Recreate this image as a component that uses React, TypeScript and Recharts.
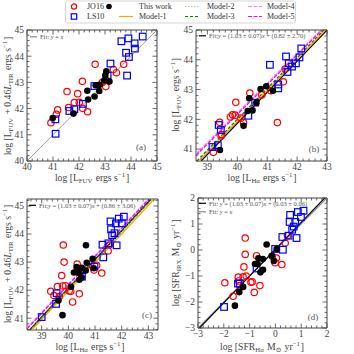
import React from 'react';
import { ScatterChart, Scatter, XAxis, YAxis } from 'recharts';

const FONT = '"Liberation Serif", "DejaVu Serif", serif';
const SIZE = 354;
const FRAME = '#444';
const TXT = '#444';

type P = [number, number];
const pts = (a: P[]) => a.map(([x, y]) => ({ x, y }));

// ---------- panel (a): L_FUV vs L_FUV + 0.46 L_TIR
const aJo16: P[] = [
  [40.92, 41.46], [41.13, 41.78], [41.18, 41.95], [41.6, 42.04], [41.54, 42.65],
  [41.82, 42.23], [42.01, 42.24], [41.95, 42.57], [42.13, 43.04], [42.14, 42.01],
  [42.33, 41.88], [42.62, 43.69], [42.9, 43.0], [43.03, 42.84], [43.03, 43.09],
  [43.32, 43.49], [43.44, 43.37], [43.72, 43.69],
];
const aLs10: P[] = [
  [41.09, 41.59], [41.1, 41.04], [41.63, 41.91], [41.82, 41.97], [42.15, 42.18],
  [42.59, 42.86], [43.1, 43.26], [43.21, 43.72], [43.63, 44.57], [43.9, 44.68],
  [43.81, 44.13], [43.92, 43.97], [43.85, 43.26], [44.14, 44.49], [44.15, 44.29],
  [44.45, 44.75],
];
const aThis: P[] = [
  [40.99, 41.64], [41.79, 41.81], [42.32, 42.68], [42.35, 42.35], [42.6, 42.46],
  [42.64, 42.89], [42.73, 42.88], [42.78, 42.67], [42.79, 42.91], [43.01, 43.26],
  [43.05, 43.42], [43.17, 43.03], [42.97, 43.07],
];
const aOneToOne: P[] = [[40, 40], [45, 45]];

// ---------- panel (b): L_Ha vs L_FUV
const bJo16: P[] = [
  [39.2, 40.89], [39.48, 41.49], [39.41, 41.9], [39.46, 41.44], [39.77, 42.08],
  [39.84, 42.15], [39.95, 42.57], [39.93, 42.14], [40.12, 42.04], [40.21, 41.89],
  [40.42, 42.88], [40.82, 42.82], [41.12, 42.96], [41.34, 41.89], [41.54, 43.26],
  [41.6, 43.69],
];
const bLs10: P[] = [
  [39.17, 41.07], [39.35, 41.13], [39.38, 41.81], [39.45, 41.64], [40.37, 42.12],
  [40.6, 42.56], [41.09, 43.83], [41.37, 43.17], [41.37, 43.04], [41.63, 44.11],
  [41.68, 43.59], [41.72, 43.88], [41.83, 43.77], [41.96, 43.88], [42.08, 44.08],
  [42.14, 44.38],
];
const bThis: P[] = [
  [39.42, 40.97], [40.21, 41.78], [40.4, 42.71], [40.35, 42.28], [40.51, 42.3],
  [40.64, 42.56], [40.78, 43.02], [40.97, 43.11], [41.19, 42.96],
];
const bFit: P[] = [[38.79, 40.6], [43.0, 45.0]];
const bModel1: P[] = [[38.72, 40.6], [42.95, 45.0]];
const bModel2: P[] = [[38.68, 40.6], [42.92, 45.0]];
const bModel3: P[] = [[38.65, 40.6], [42.9, 45.0]];
const bModel4: P[] = [[38.62, 40.84], [42.8, 45.0]];
const bModel5: P[] = [[38.62, 40.79], [42.84, 45.0]];

// ---------- panel (c): L_Ha vs L_FUV + 0.46 L_TIR
const cJo16: P[] = [
  [39.34, 41.96], [39.46, 41.81], [39.59, 42.13], [39.66, 41.77], [39.81, 43.61],
  [39.84, 43.0], [39.75, 42.52], [39.79, 42.15], [39.89, 42.16], [40.03, 41.97],
  [40.09, 41.96], [40.16, 41.58], [40.33, 42.93], [40.41, 41.87], [40.83, 42.92],
  [40.96, 42.72], [41.06, 42.89], [41.25, 42.61], [41.49, 43.4], [41.54, 43.61],
];
const cLs10: P[] = [
  [39.0, 41.04], [39.56, 41.89], [39.54, 41.51], [40.51, 42.48], [40.98, 42.84],
  [41.28, 43.62], [41.31, 43.17], [41.5, 43.67], [41.58, 44.45], [41.6, 44.17],
  [41.64, 43.96], [41.73, 44.03], [41.78, 44.38], [41.81, 43.6], [41.89, 44.55],
  [42.0, 44.38], [42.08, 44.62],
];
const cThis: P[] = [
  [39.78, 41.11], [39.63, 41.63], [40.21, 42.63], [40.31, 42.82], [40.4, 42.61],
  [40.5, 42.8], [40.41, 42.37], [40.5, 42.45], [40.65, 42.7], [40.69, 42.98],
  [40.1, 42.12], [40.91, 43.12], [40.66, 43.6], [40.95, 42.78],
];
const cFit: P[] = [[38.55, 40.58], [43.1, 45.25]];
const cModel1: P[] = [[38.63, 40.58], [43.22, 45.25]];
const cModel2: P[] = [[38.58, 40.58], [43.14, 45.25]];
const cModel3: P[] = [[38.57, 40.58], [43.12, 45.25]];
const cModel4: P[] = [[38.45, 40.66], [43.0, 45.25]];
const cModel5: P[] = [[38.45, 40.62], [43.03, 45.25]];

// ---------- panel (d): SFR_Ha vs SFR_IRX
const dJo16: P[] = [
  [-1.96, -1.26], [-1.64, -1.78], [-1.44, -1.04], [-1.42, -1.19], [-1.38, -1.37],
  [-1.25, -1.03], [-1.17, 0.46], [-1.17, -0.17], [-1.22, -0.65], [-1.13, -1.0],
  [-0.95, -1.24], [-0.9, -1.22], [-0.82, -1.63], [-0.73, -0.22], [-0.6, -1.37],
  [-0.12, -0.24], [-0.01, -0.49], [0.04, -0.31], [0.25, -0.56], [0.38, 0.27],
  [0.47, 0.55],
];
const dLs10: P[] = [
  [-1.99, -2.19], [-1.45, -1.29], [-1.38, -1.29], [-0.73, -0.71], [-0.01, 0.04],
  [0.27, 0.5], [0.29, 0.01], [0.51, 0.55], [0.57, 1.35], [0.55, 1.08],
  [0.65, 0.78], [0.71, 0.9], [0.77, 1.08], [0.87, 1.46], [0.82, 0.46],
  [0.99, 1.27], [1.09, 1.51],
];
const dThis: P[] = [
  [-1.57, -2.14], [-1.4, -1.62], [-1.25, -1.42], [-0.79, -0.54], [-0.69, -0.54],
  [-0.66, -0.32], [-0.58, -0.86], [-0.49, -0.35], [-0.48, -0.76], [-0.34, 0.21],
  [-0.14, -0.22], [-0.06, -0.42], [0.05, 0.04],
];
const dFit: P[] = [[-3, -3.06], [2, 2.09]];
const dOneToOne: P[] = [[-3, -3], [2, 2]];

// major ticks
const ticks40to45 = [40, 41, 42, 43, 44, 45];
const ticks39to43 = [39, 40, 41, 42, 43];
const ticks41to45 = [41, 42, 43, 44, 45];
const ticksM3to2 = [-3, -2, -1, 0, 1, 2];

const C = {
  jo16: '#ff0000',
  ls10: '#0000ff',
  m1: '#ffa500',
  m2: '#98df8a',
  m3: '#008000',
  m4: '#ee82ee',
  m5: '#ff00ff',
};

const RedCircle = (p: any) => (
  <circle cx={p.cx} cy={p.cy} r={3.2} fill="none" stroke={C.jo16} strokeWidth={1.2} />
);
const BlueSquare = (p: any) => (
  <rect x={p.cx - 3.3} y={p.cy - 3.3} width={6.6} height={6.6} fill="none" stroke={C.ls10} strokeWidth={1.2} />
);
const BlackDot = (p: any) => <circle cx={p.cx} cy={p.cy} r={3.3} fill="#000" />;
const NoDot = () => <g />;

function withMinor(dom: [number, number], majors: number[], step = 0.2) {
  const out = [...majors];
  const start = Math.ceil(dom[0] / step - 1e-9);
  for (let i = start; i * step <= dom[1] + 1e-9; i++) {
    const v = +(i * step).toFixed(2);
    if (!majors.some((m) => Math.abs(m - v) < 1e-6)) out.push(v);
  }
  return out.sort((a, b) => a - b);
}

type Side = 'bottom' | 'top' | 'left' | 'right';
const tickFn = (side: Side, majors: number[]) => (props: any) => {
  const { x, y, payload } = props;
  const v = payload.value as number;
  const major = majors.some((m) => Math.abs(m - v) < 1e-6);
  const len = major ? 4.5 : 2.5;
  let l = { x1: x, y1: y, x2: x, y2: y };
  if (side === 'bottom') l.y2 = y - len;
  if (side === 'top') l.y2 = y + len;
  if (side === 'left') l.x2 = x + len;
  if (side === 'right') l.x2 = x - len;
  const label = String(v).replace('-', '\u2212');
  return (
    <g>
      <line {...l} stroke={FRAME} strokeWidth={0.8} />
      {major && side === 'bottom' && (
        <text x={x} y={y + 9} textAnchor="middle" fontSize={9.5} fontFamily={FONT} fill={TXT}>
          {label}
        </text>
      )}
      {major && side === 'left' && (
        <text x={x - 3} y={y + 3.3} textAnchor="end" fontSize={9.5} fontFamily={FONT} fill={TXT}>
          {label}
        </text>
      )}
    </g>
  );
};

type LineDef = { data: P[]; stroke: string; width?: number; dash?: string };
type PanelProps = {
  box: { l: number; t: number; w: number; h: number };
  xDom: [number, number];
  yDom: [number, number];
  xMajor: number[];
  yMajor: number[];
  jo16: P[];
  ls10: P[];
  mine: P[];
  lines: LineDef[];
};

function Panel({ box, xDom, yDom, xMajor, yMajor, jo16, ls10, mine, lines }: PanelProps) {
  // every axis is 1px thick (a 0px axis is not drawn), so the margins give that pixel back
  const margin = {
    left: box.l - 1,
    top: box.t - 1,
    right: SIZE - box.l - box.w - 1,
    bottom: SIZE - box.t - box.h - 1,
  };
  const xTicks = withMinor(xDom, xMajor);
  const yTicks = withMinor(yDom, yMajor);
  const common = {
    type: 'number' as const,
    allowDataOverflow: true,
    tickSize: 0,
    tickMargin: 0,
    tickLine: false,
    interval: 0 as const,
    axisLine: { stroke: FRAME, strokeWidth: 1 },
  };
  return (
    <div style={{ position: 'absolute', left: 0, top: 0 }}>
      <ScatterChart width={SIZE} height={SIZE} margin={margin}>
        <XAxis {...common} xAxisId="b" dataKey="x" domain={xDom} ticks={xTicks} height={1} tick={tickFn('bottom', xMajor)} />
        <XAxis {...common} xAxisId="t" orientation="top" dataKey="x" domain={xDom} ticks={xTicks} height={1} tick={tickFn('top', xMajor)} />
        <YAxis {...common} yAxisId="l" dataKey="y" domain={yDom} ticks={yTicks} width={1} tick={tickFn('left', yMajor)} />
        <YAxis {...common} yAxisId="r" orientation="right" dataKey="y" domain={yDom} ticks={yTicks} width={1} tick={tickFn('right', yMajor)} />
        <Scatter xAxisId="t" yAxisId="r" data={pts(mine)} shape={NoDot} isAnimationActive={false} />
        {lines.map((ln, i) => (
          <Scatter
            key={i}
            xAxisId="b"
            yAxisId="l"
            data={pts(ln.data)}
            line={{ stroke: ln.stroke, strokeWidth: ln.width ?? 1.3, strokeDasharray: ln.dash }}
            lineType="joint"
            shape={NoDot}
            isAnimationActive={false}
          />
        ))}
        <Scatter xAxisId="b" yAxisId="l" data={pts(jo16)} shape={RedCircle} isAnimationActive={false} />
        <Scatter xAxisId="b" yAxisId="l" data={pts(ls10)} shape={BlueSquare} isAnimationActive={false} />
        <Scatter xAxisId="b" yAxisId="l" data={pts(mine)} shape={BlackDot} isAnimationActive={false} />
      </ScatterChart>
    </div>
  );
}

const models = (m1: P[], m2: P[], m3: P[], m4: P[], m5: P[]): LineDef[] => [
  { data: m2, stroke: C.m2, dash: '1.5 1.5' },
  { data: m3, stroke: C.m3, dash: '3 2' },
  { data: m4, stroke: C.m4, dash: '4 1.5' },
  { data: m5, stroke: C.m5, dash: '4 1.5' },
  { data: m1, stroke: C.m1 },
];

const sub = (s: string) => (
  <>
    <tspan fontSize={6.8} dy={2}>{s}</tspan>
    <tspan dy={-2}>{'\u200a'}</tspan>
  </>
);
const sup = (s: string) => (
  <>
    <tspan fontSize={6.8} dy={-4}>{s}</tspan>
    <tspan dy={4}>{'\u200a'}</tspan>
  </>
);

const lumFuv = <>log [L{sub('FUV')} ergs s{sup('\u22121')}]</>;
const lumHa = <>log [L{sub('H\u03b1')} ergs s{sup('\u22121')}]</>;
const lumTot = (
  <>
    log [L{sub('FUV')} + 0.46<tspan fontStyle="italic">L</tspan>{sub('TIR')} ergs s{sup('\u22121')}]
  </>
);
const sfr = (s: string) => (
  <>
    log [SFR{sub(s)} M{sub('\u2299')} yr{sup('\u22121')}]
  </>
);

const XLab = ({ x, y, children }: any) => (
  <text x={x} y={y} textAnchor="middle" fontSize={9.7} fill={TXT}>{children}</text>
);
const YLab = ({ x, y, children }: any) => (
  <text transform={`translate(${x},${y}) rotate(-90)`} textAnchor="middle" fontSize={9.7} fill={TXT}>{children}</text>
);
const Tag = ({ x, y, t }: any) => (
  <text x={x} y={y} textAnchor="middle" fontSize={9} fill="#555">{t}</text>
);
const FitRow = ({ x, y, color, children }: any) => (
  <g>
    <line x1={x} y1={y - 2.2} x2={x + 7} y2={y - 2.2} stroke={color} strokeWidth={1.2} />
    <text x={x + 10} y={y} fontSize={6.5} fill="#555">{children}</text>
  </g>
);
const it = (s: string) => <tspan fontStyle="italic">{s}</tspan>;

function Legend() {
  const rows = [6.5, 16.5];
  const item = (x: number, y: number, label: string) => (
    <text x={x} y={y + 2.8} fontSize={8} fill="#333">{label}</text>
  );
  const seg = (x: number, y: number, color: string, dash?: string) => (
    <line x1={x} y1={y} x2={x + 14} y2={y} stroke={color} strokeWidth={1.2} strokeDasharray={dash} />
  );
  return (
    <g>
      <rect x={65.5} y={1} width={230} height={22} rx={2} fill="#fff" stroke="#ccc" strokeWidth={0.8} />
      <circle cx={74} cy={rows[0]} r={2.6} fill="none" stroke={C.jo16} strokeWidth={1.2} />
      {item(87, rows[0], 'JO16')}
      <rect x={71.3} y={rows[1] - 2.7} width={5.4} height={5.4} fill="none" stroke={C.ls10} strokeWidth={1.2} />
      {item(87, rows[1], 'LS10')}
      <circle cx={109} cy={rows[0]} r={2.8} fill="#000" />
      {item(139, rows[0], 'This work')}
      {seg(119, rows[1], C.m1)}
      {item(139, rows[1], 'Model-1')}
      {seg(185, rows[0], C.m2, '1.5 1.5')}
      {item(207, rows[0], 'Model-2')}
      {seg(185, rows[1], C.m3, '3 2')}
      {item(207, rows[1], 'Model-3')}
      {seg(248, rows[0], C.m4, '4 1.5')}
      {item(267, rows[0], 'Model-4')}
      {seg(248, rows[1], C.m5, '4 1.5')}
      {item(267, rows[1], 'Model-5')}
    </g>
  );
}

export default function App() {
  return (
    <div style={{ position: 'fixed', left: 0, top: 0, width: SIZE, height: SIZE, background: '#fff', fontFamily: FONT }}>
      <Panel
        box={{ l: 27, t: 30, w: 130, h: 131 }}
        xDom={[40, 45]}
        yDom={[40, 45]}
        xMajor={ticks40to45}
        yMajor={ticks40to45}
        jo16={aJo16}
        ls10={aLs10}
        mine={aThis}
        lines={[{ data: aOneToOne, stroke: '#888', width: 0.8 }]}
      />
      <Panel
        box={{ l: 196, t: 30, w: 131, h: 131 }}
        xDom={[38.62, 43]}
        yDom={[40.6, 45]}
        xMajor={ticks39to43}
        yMajor={ticks41to45}
        jo16={bJo16}
        ls10={bLs10}
        mine={bThis}
        lines={[{ data: bFit, stroke: '#000' }, ...models(bModel1, bModel2, bModel3, bModel4, bModel5)]}
      />
      <Panel
        box={{ l: 27, t: 199, w: 131, h: 131 }}
        xDom={[38.45, 43.36]}
        yDom={[40.58, 45.25]}
        xMajor={ticks39to43}
        yMajor={ticks41to45}
        jo16={cJo16}
        ls10={cLs10}
        mine={cThis}
        lines={[{ data: cFit, stroke: '#000' }, ...models(cModel1, cModel2, cModel3, cModel4, cModel5)]}
      />
      <Panel
        box={{ l: 198, t: 198, w: 129, h: 130 }}
        xDom={[-3, 2]}
        yDom={[-3, 2]}
        xMajor={ticksM3to2}
        yMajor={ticksM3to2}
        jo16={dJo16}
        ls10={dLs10}
        mine={dThis}
        lines={[
          { data: dOneToOne, stroke: '#888', width: 1.2 },
          { data: dFit, stroke: '#000', width: 1.2 },
        ]}
      />
      <svg width={SIZE} height={SIZE} style={{ position: 'absolute', left: 0, top: 0, pointerEvents: 'none' }} fontFamily={FONT}>
        <Legend />
        <XLab x={92} y={181}>{lumFuv}</XLab>
        <XLab x={262} y={181}>{lumHa}</XLab>
        <XLab x={90} y={349.5}>{lumHa}</XLab>
        <XLab x={262} y={349.5}>{sfr('H\u03b1')}</XLab>
        <YLab x={11} y={96}>{lumTot}</YLab>
        <YLab x={179} y={95}>{lumFuv}</YLab>
        <YLab x={11} y={264}>{lumTot}</YLab>
        <YLab x={179} y={263}>{sfr('IRX')}</YLab>
        <Tag x={141} y={150} t="(a)" />
        <Tag x={314} y={152} t="(b)" />
        <Tag x={147} y={318} t="(c)" />
        <Tag x={313} y={320} t="(d)" />
        <FitRow x={30} y={39} color="#888">Fit: {it('y')} = {it('x')}</FitRow>
        <FitRow x={199} y={38} color="#000">
          Fit:{it('y')} = (1.03 ± 0.07){it('x')} + (0.82 ± 2.70)
        </FitRow>
        <FitRow x={29} y={207.5} color="#000">
          Fit:{it('y')} = (1.03 ± 0.07){it('x')} + (0.86 ± 3.06)
        </FitRow>
        <FitRow x={199} y={205.5} color="#000">
          Fit: {it('y')} = (1.03 ± 0.07){it('x')} + (0.03 ± 0.06)
        </FitRow>
        <FitRow x={199} y={214} color="#888">Fit: {it('y')} = {it('x')}</FitRow>
      </svg>
    </div>
  );
}
